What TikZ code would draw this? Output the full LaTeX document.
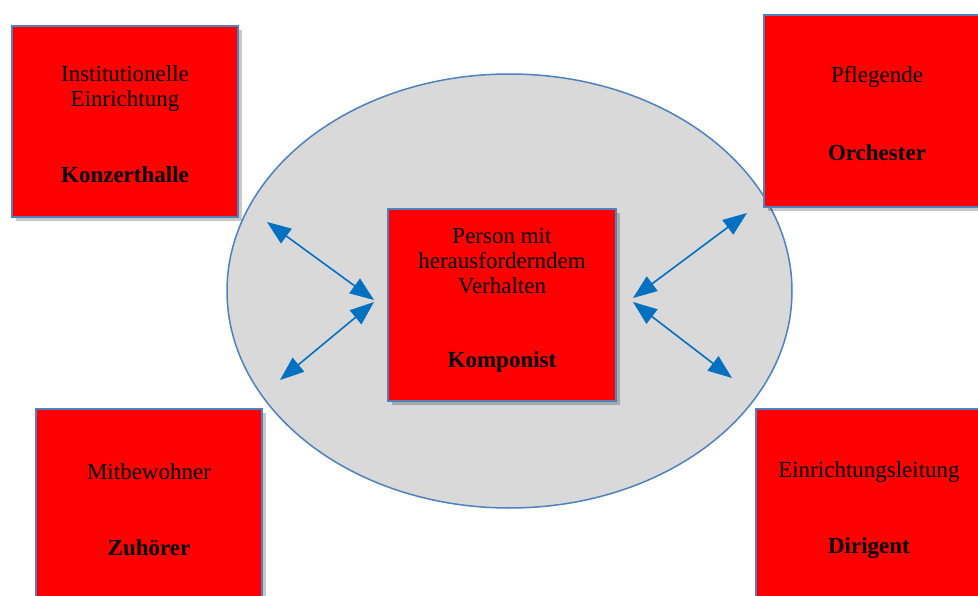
\documentclass[tikz,border=0pt]{standalone}
\usepackage{fontspec}
\setmainfont{Liberation Serif}
\usetikzlibrary{arrows.meta,shadows,shapes.geometric}
\definecolor{boxred}{HTML}{FF0000}
\definecolor{edgeblue}{HTML}{4F81BD}
\definecolor{arrowblue}{HTML}{0070C0}
\definecolor{ellgray}{HTML}{D9D9D9}
\tikzset{
  redbox/.style={draw=edgeblue, line width=1.3pt, fill=boxred, inner sep=0pt,
    drop shadow={shadow xshift=4pt, shadow yshift=-4pt, opacity=0.22, fill=black}},
  lbl/.style={font=\fontsize{23}{25}\selectfont, align=center, inner sep=0pt, text=black},
  blbl/.style={lbl, font=\fontsize{23}{25}\selectfont\bfseries},
  biarrow/.style={arrowblue, line width=1.6pt,
    {Triangle[length=24pt,width=18pt]}-{Triangle[length=24pt,width=18pt]}}
}
\begin{document}
\begin{tikzpicture}[x=1pt,y=-1pt]
\useasboundingbox (0,0) rectangle (978,596);
\clip (0,0) rectangle (978,596);
\fill[white] (0,0) rectangle (978,596);
% ellipse
\node (ell) [draw=edgeblue, line width=1.5pt, fill=ellgray, ellipse, minimum width=565pt, minimum height=434pt, inner sep=0pt] at (509.5,291) {};
% boxes
\node (tl) [redbox, minimum width=226pt, minimum height=191pt] at (125,121.5) {};
\node (tr) [redbox, minimum width=226pt, minimum height=192pt] at (877,111) {};
\node (bl) [redbox, minimum width=226pt, minimum height=191pt] at (149,504.5) {};
\node (br) [redbox, minimum width=226pt, minimum height=191pt] at (869,504.5) {};
\node (cc) [redbox, minimum width=228pt, minimum height=192pt] at (502,305) {};
% texts
\node (tlt) [lbl] at (125,89) {Institutionelle\\Einrichtung};
\node (tlb) [blbl] at (125,175) {Konzerthalle};
\node (trt) [lbl] at (877,77) {Pflegende};
\node (trb) [blbl] at (877,153) {Orchester};
\node (blt) [lbl] at (149,472) {Mitbewohner};
\node (blb) [blbl] at (149,548) {Zuhörer};
\node (brt) [lbl] at (869,472) {Einrichtungsleitung};
\node (brb) [blbl] at (869,548) {Dirigent};
\node (cct) [lbl] at (502,261) {Person mit\\herausforderndem\\Verhalten};
\node (ccb) [blbl] at (502,362) {Komponist};
% arrows
\coordinate (la1) at (267,222);
\coordinate (la2) at (374,300);
\coordinate (lb1) at (374,302);
\coordinate (lb2) at (280,380);
\coordinate (ra1) at (747,213);
\coordinate (ra2) at (633,298);
\coordinate (rb1) at (633,302);
\coordinate (rb2) at (732,378);
\draw[biarrow] (la1) -- (la2);
\draw[biarrow] (lb1) -- (lb2);
\draw[biarrow] (ra1) -- (ra2);
\draw[biarrow] (rb1) -- (rb2);
\end{tikzpicture}
\end{document}
